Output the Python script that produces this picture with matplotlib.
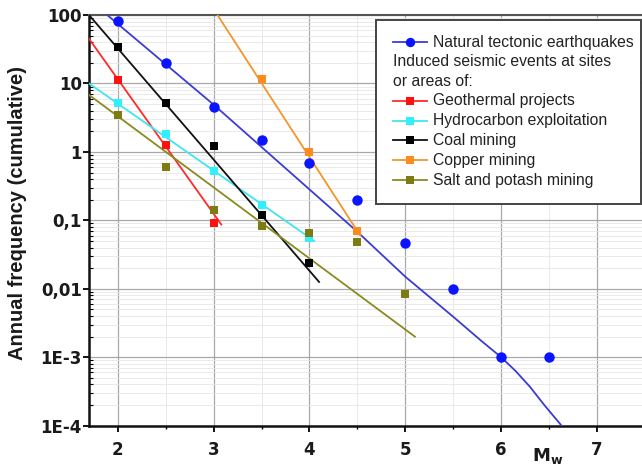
import matplotlib
matplotlib.use('Agg')
import matplotlib.pyplot as plt
from matplotlib.lines import Line2D
from matplotlib.patches import Rectangle
from matplotlib.ticker import FixedLocator, LogLocator, NullFormatter

# observed points (magnitude, annual cumulative frequency)
nat_m = [2, 2.5, 3, 3.5, 4, 4.5, 5, 5.5, 6, 6.5]
nat_n = [82, 20, 4.6, 1.5, 0.69, 0.2, 0.047, 0.01, 0.001, 0.001]
geo_m = [2, 2.5, 3]
geo_n = [11.3, 1.27, 0.091]
hyd_m = [2, 2.5, 3, 3.5, 4]
hyd_n = [5.2, 1.8, 0.53, 0.17, 0.055]
coal_m = [2, 2.5, 3, 3.5, 4]
coal_n = [34, 5.2, 1.24, 0.12, 0.024]
cop_m = [3.5, 4, 4.5]
cop_n = [11.7, 1.0, 0.07]
salt_m = [2, 2.5, 3, 3.5, 4, 4.5, 5]
salt_n = [3.5, 0.6, 0.14, 0.084, 0.066, 0.049, 0.0085]

# fitted lines
nat_fit_m = [1.89, 3.0, 4.5, 5.0, 5.5, 5.8, 6.0, 6.15, 6.3, 6.45, 6.63]
nat_fit_n = [100, 4.9, 0.068, 0.015, 0.0039, 0.0017, 0.001, 0.00063, 0.00037, 0.0002, 0.0001]
geo_fit_m = [1.7, 3.08]
geo_fit_n = [45, 0.087]
hyd_fit_m = [1.7, 4.05]
hyd_fit_n = [10, 0.05]
coal_fit_m = [1.7, 4.1]
coal_fit_n = [100, 0.0126]
cop_fit_m = [3.04, 4.53]
cop_fit_n = [100, 0.06]
salt_fit_m = [1.7, 5.1]
salt_fit_n = [6.8, 0.002]

yticks = [1e-4, 1e-3, 0.01, 0.1, 1, 10, 100]
ylabels = ['1E-4', '1E-3', '0,01', '0,1', '1', '10', '100']
xticks = [2, 3, 4, 5, 6, 7]

W, H = 642, 468
fig = plt.figure(figsize=(W / 100, H / 100), dpi=100)
ax = fig.add_axes([89 / W, 1 - 425.7 / H, (645 - 89) / W, (425.7 - 15) / H])

ax.set_yscale('log')
ax.set_xlim(1.7, 7.5)
ax.set_ylim(1e-4, 100)

series = [
    (nat_m, nat_n, nat_fit_m, nat_fit_n, '#3c3cd2', '#0a14ff', 'o', 7.5),
    (geo_m, geo_n, geo_fit_m, geo_fit_n, '#ff2a2a', '#ff1010', 's', 6),
    (hyd_m, hyd_n, hyd_fit_m, hyd_fit_n, '#3ee6f0', '#30f0ff', 's', 6),
    (coal_m, coal_n, coal_fit_m, coal_fit_n, '#111111', '#000000', 's', 6),
    (cop_m, cop_n, cop_fit_m, cop_fit_n, '#f5952a', '#ff8a1c', 's', 6),
    (salt_m, salt_n, salt_fit_m, salt_fit_n, '#8a8a20', '#7c7c12', 's', 6),
]
for pm, pn, fm, fn, lc, mc, mk, ms in series:
    ax.plot(fm, fn, color=lc, lw=1.3, zorder=3)
    ax.plot(pm, pn, ls='none', marker=mk, color=mc, ms=ms, mew=0, zorder=4)

# grid
ax.xaxis.set_major_locator(FixedLocator(xticks))
ax.xaxis.set_minor_locator(FixedLocator([1.5 + 0.5 * i * 2 for i in range(7)]))
ax.yaxis.set_major_locator(FixedLocator(yticks))
ax.yaxis.set_minor_locator(LogLocator(base=10, subs=range(2, 10)))
ax.yaxis.set_minor_formatter(NullFormatter())
ax.set_yticklabels(ylabels)
ax.grid(True, which='major', color='#a8a8a8', lw=0.9)
ax.grid(True, which='minor', color='#e6e6e6', lw=0.6)
ax.set_axisbelow(True)

for lab in ax.get_xticklabels() + ax.get_yticklabels():
    lab.set_fontfamily('DejaVu Sans')
    lab.set_fontweight('bold')
    lab.set_fontsize(12)
    lab.set_color('#1a1a1a')

ax.tick_params(axis='x', which='major', direction='out', length=4, width=1.3, pad=7)
ax.tick_params(axis='x', which='minor', direction='out', length=2.5, width=1)
ax.tick_params(axis='y', which='major', direction='out', length=4, width=1.3, pad=1)
ax.tick_params(axis='y', which='minor', direction='in', length=3, width=0.8)

for s in ['left', 'bottom']:
    ax.spines[s].set_linewidth(1.8)
    ax.spines[s].set_color('#111111')
ax.spines['top'].set_linewidth(1.5)
ax.spines['top'].set_color('#555555')
ax.spines['right'].set_visible(False)

ax.set_ylabel('Annual frequency (cumulative)', fontfamily='Liberation Sans',
              fontweight='bold', fontsize=14.5, color='#1a1a1a')
ax.yaxis.set_label_coords(-0.112, 0.518)
ax.set_xlabel(r'$\mathbf{M}_{\mathbf{w}}$', fontsize=13, color='#1a1a1a')
ax.xaxis.set_label_coords(0.825, -0.05)


# legend drawn by hand (pixel positions of the reference)
def fx(x):
    return x / W


def fy(y):
    return 1 - y / H


fig.add_artist(Rectangle((fx(376), fy(204)), fx(641) - fx(376), fy(20) - fy(204),
                         transform=fig.transFigure, facecolor='white',
                         edgecolor='#444444', lw=1.4, zorder=5))

rows = [
    ('Natural tectonic earthquakes', 42, 0),
    ('Induced seismic events at sites', 62, None),
    ('or areas of:', 81, None),
    ('Geothermal projects', 101, 1),
    ('Hydrocarbon exploitation', 121, 2),
    ('Coal mining', 140, 3),
    ('Copper mining', 160, 4),
    ('Salt and potash mining', 180, 5),
]
for text, y, idx in rows:
    if idx is None:
        fig.text(fx(393), fy(y), text, fontfamily='Liberation Sans', fontsize=11.3,
                 color='#222222', va='center', ha='left', zorder=6)
        continue
    lc, mc, mk, ms = series[idx][4:]
    fig.add_artist(Line2D([fx(393), fx(427)], [fy(y), fy(y)], transform=fig.transFigure,
                          color=lc, lw=1.3, zorder=6))
    fig.add_artist(Line2D([fx(410)], [fy(y)], transform=fig.transFigure, ls='none',
                          marker=mk, color=mc, ms=ms * 0.9, mew=0, zorder=7))
    fig.text(fx(433), fy(y), text, fontfamily='Liberation Sans', fontsize=11.3,
             color='#222222', va='center', ha='left', zorder=6)

fig.savefig('out.png', dpi=100)
